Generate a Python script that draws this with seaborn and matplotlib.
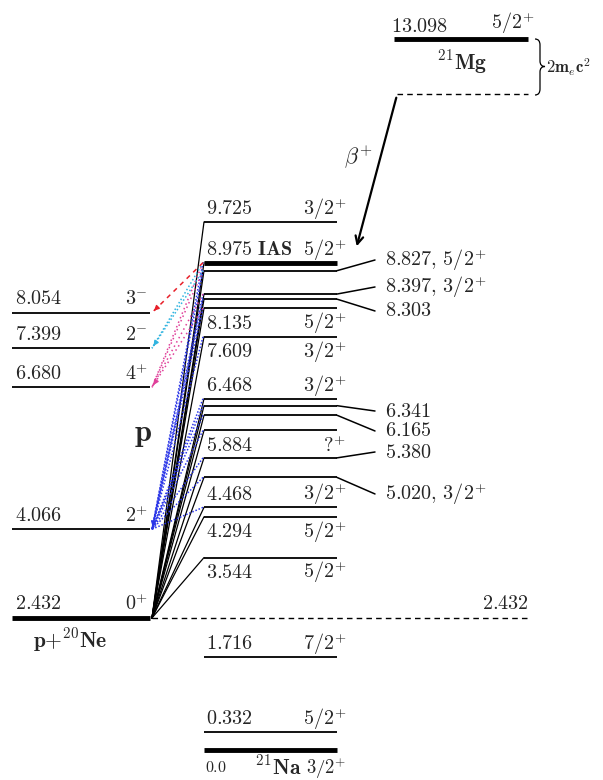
import numpy as np
import pandas as pd
import matplotlib.pyplot as plt
import seaborn as sns
from matplotlib.path import Path
from matplotlib.patches import PathPatch

sns.set_theme(style='white')
plt.rcParams['mathtext.fontset'] = 'cm'
plt.rcParams['font.family'] = ['DejaVu Serif']

# 21Na levels (MeV) and spins
na_energy = [0.0, 0.332, 1.716, 3.544, 4.294, 4.468, 5.020, 5.380, 5.884, 6.165,
             6.341, 6.468, 7.609, 8.135, 8.303, 8.397, 8.827, 8.975, 9.725]
na_spin = ['3/2^{+}', '5/2^{+}', '7/2^{+}', '5/2^{+}', '5/2^{+}', '3/2^{+}', '3/2^{+}', '',
           '?^{+}', '', '', '3/2^{+}', '3/2^{+}', '5/2^{+}', '', '3/2^{+}', '5/2^{+}',
           '5/2^{+}', '3/2^{+}']
# p + 20Ne levels
ne_energy = [2.432, 4.066, 6.680, 7.399, 8.054]
ne_spin = ['0^{+}', '2^{+}', '4^{+}', '2^{-}', '3^{-}']
# 21Mg ground state
mg_energy = 13.098
mg_spin = '5/2^{+}'
two_mec2 = 1.022
threshold = 2.432

# proton decays to 20Ne excited states (source level -> final level)
to_8054 = [8.975]
to_7399 = [8.975, 8.827]
to_6680 = [8.975, 8.827, 8.397, 8.135]
to_4066 = [4.468, 5.020, 5.380, 5.884, 6.165, 6.341, 6.468, 7.609, 8.135,
           8.303, 8.397, 8.827, 8.975]

# label placement for crowded 21Na levels
above = [0.332, 1.716, 4.468, 6.468, 8.975, 9.725]
below = [0.0, 3.544, 4.294, 5.884, 7.609, 8.135]
side_label_E = {8.827: 9.024, 8.397: 8.527, 8.303: 8.085, 6.341: 6.243,
                6.165: 5.875, 5.380: 5.488, 5.020: 4.715}

PX = 54.3  # pixels per MeV


def E(py):
    return (750 - py) / PX


fig = plt.figure(figsize=(6.03, 7.80), dpi=100)
ax = fig.add_axes([0, 0, 1, 1])
ax.set_xlim(0, 603)
ax.set_ylim(E(780), E(0))
ax.axis('off')

fs = 14.5
na_x0, na_x1 = 204, 337
ne_x0, ne_x1 = 12, 150
fan_x0 = 152

# fan of proton-emitting levels from the threshold
fan_rows = []
for e in na_energy:
    if e > threshold:
        fan_rows.append({'level': e, 'x': fan_x0, 'E': threshold})
        fan_rows.append({'level': e, 'x': na_x0, 'E': e})
fan_df = pd.DataFrame(fan_rows)
sns.lineplot(data=fan_df, x='x', y='E', units='level', estimator=None, sort=False,
             color='black', linewidth=0.9, ax=ax)


def decay(sources, target, color, ls):
    for e in sources:
        x0, y0 = na_x0 - 1, e
        x1, y1 = ne_x1 + 2, target
        ax.plot([x0, x1], [y0, y1], color=color, lw=1.1, ls=ls)
    d = np.array([x0 - x1, (y0 - y1) * PX])
    d = d / np.hypot(*d) * 6
    ax.annotate('', xy=(x1, y1), xytext=(x1 + d[0], y1 + d[1] / PX),
                arrowprops=dict(arrowstyle='-|>', color=color, lw=1, mutation_scale=7))


decay(to_4066, 4.066, '#2a35e8', (0, (1, 1.2)))
decay(to_6680, 6.680, '#e0409a', (0, (1, 2.2)))
decay(to_7399, 7.399, '#30b4e0', (0, (1, 1.5)))
decay(to_8054, 8.054, '#e8202a', (0, (3, 3)))

# p + 20Ne levels
for e, s in zip(ne_energy, ne_spin):
    lw = 3.5 if e == threshold else 1.3
    ax.hlines(e, ne_x0, ne_x1, color='black', lw=lw)
    ax.text(15, e + 14 / PX, f'${e:.3f}$', fontsize=fs, ha='left', va='center')
    ax.text(148, e + 14 / PX, f'${s}$', fontsize=fs, ha='right', va='center')
ax.text(70, E(640), r'$\mathbf{p}{+}^{\mathbf{20}}\mathbf{Ne}$', fontsize=fs + 1,
        ha='center', va='center')
ax.text(143, E(433), r'$\mathbf{p}$', fontsize=22, ha='center', va='center')

# threshold dashed line
ax.hlines(threshold, fan_x0, 530, color='black', lw=1, linestyles=(0, (4, 3)))
ax.text(529, threshold + 14 / PX, f'${threshold:.3f}$', fontsize=fs, ha='right', va='center')

# 21Na levels
for e, s in zip(na_energy, na_spin):
    lw = 3.5 if e in (0.0, 8.975) else 1.3
    ax.hlines(e, na_x0, na_x1, color='black', lw=lw)
    if e in side_label_E:
        ey = side_label_E[e]
        ax.plot([na_x1, 375], [e, ey], color='black', lw=1.1)
        txt = f'${e:.3f}' + (f',\\,{s}$' if s else '$')
        ax.text(385, ey, txt, fontsize=fs, ha='left', va='center')
        continue
    if e == 0.0:
        ax.text(205, E(768), r'$0.0$', fontsize=fs - 3, ha='left', va='center')
        ax.text(278, E(768), r'$^{\mathbf{21}}\mathbf{Na}$', fontsize=fs + 1,
                ha='center', va='center')
        ax.text(346, E(768), f'${s}$', fontsize=fs - 1, ha='right', va='center')
        continue
    dy = 13 / PX if e in above else -15 / PX
    label = f'${e:.3f}$'
    if e == 8.975:
        label = r'$8.975\ \mathbf{IAS}$'
    ax.text(206, e + dy, label, fontsize=fs, ha='left', va='center')
    if s:
        ax.text(346, e + dy, f'${s}$', fontsize=fs, ha='right', va='center')

# 21Mg
ax.hlines(mg_energy, 394, 528, color='black', lw=3.5)
ax.hlines(mg_energy - two_mec2, 397, 528, color='black', lw=1, linestyles=(0, (4, 3)))
ax.text(391, E(26), f'${mg_energy:.3f}$', fontsize=fs, ha='left', va='center')
ax.text(534, E(23), f'${mg_spin}$', fontsize=fs, ha='right', va='center')
ax.text(462, E(62), r'$^{\mathbf{21}}\mathbf{Mg}$', fontsize=fs + 1, ha='center', va='center')

# curly brace for 2 m_e c^2
bx = [535, 540, 540, 540, 540, 545, 540, 540, 540, 540, 535]
by = [39, 39, 45, 61, 66.5, 66.5, 66.5, 72, 89, 95, 95]
codes = [Path.MOVETO, Path.CURVE3, Path.CURVE3, Path.LINETO, Path.CURVE3, Path.CURVE3,
         Path.CURVE3, Path.CURVE3, Path.LINETO, Path.CURVE3, Path.CURVE3]
brace = Path(np.column_stack([bx, [E(v) for v in by]]), codes)
ax.add_patch(PathPatch(brace, fill=False, lw=0.9, color='black'))
ax.text(546, E(67), r'$\mathbf{2m}_e\mathbf{c}^\mathbf{2}$', fontsize=12, ha='left', va='center')

# beta+ feeding of the IAS
ax.annotate('', xy=(356, E(249)), xytext=(397, E(95)),
            arrowprops=dict(arrowstyle='->', color='black', lw=1.6, mutation_scale=14))
ax.text(358, E(157), r'$\beta^{+}$', fontsize=16, ha='center', va='center')

plt.savefig('out.png', dpi=100)
